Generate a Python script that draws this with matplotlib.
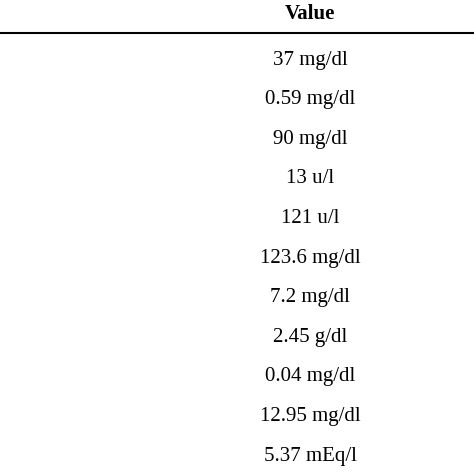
import matplotlib.pyplot as plt

header = "Value"
values = ["37 mg/dl", "0.59 mg/dl", "90 mg/dl", "13 u/l", "121 u/l",
          "123.6 mg/dl", "7.2 mg/dl", "2.45 g/dl", "0.04 mg/dl",
          "12.95 mg/dl", "5.37 mEq/l"]

plt.rcParams['font.family'] = ['Liberation Serif', 'DejaVu Serif']

fig = plt.figure(figsize=(4.74, 4.74), dpi=100)
ax = fig.add_axes([0, 0, 1, 1])
ax.set_xlim(0, 474)
ax.set_ylim(474, 0)
ax.axis("off")

col_x = 310
ax.text(col_x, 14, header, ha="center", va="center", fontsize=15, fontweight="bold")
ax.axhline(33, color="black", lw=1.5)

row0, step = 60, 39.6
for i, v in enumerate(values):
    ax.text(col_x, row0 + i * step, v, ha="center", va="center", fontsize=15)

fig.savefig("out.png", dpi=100)
